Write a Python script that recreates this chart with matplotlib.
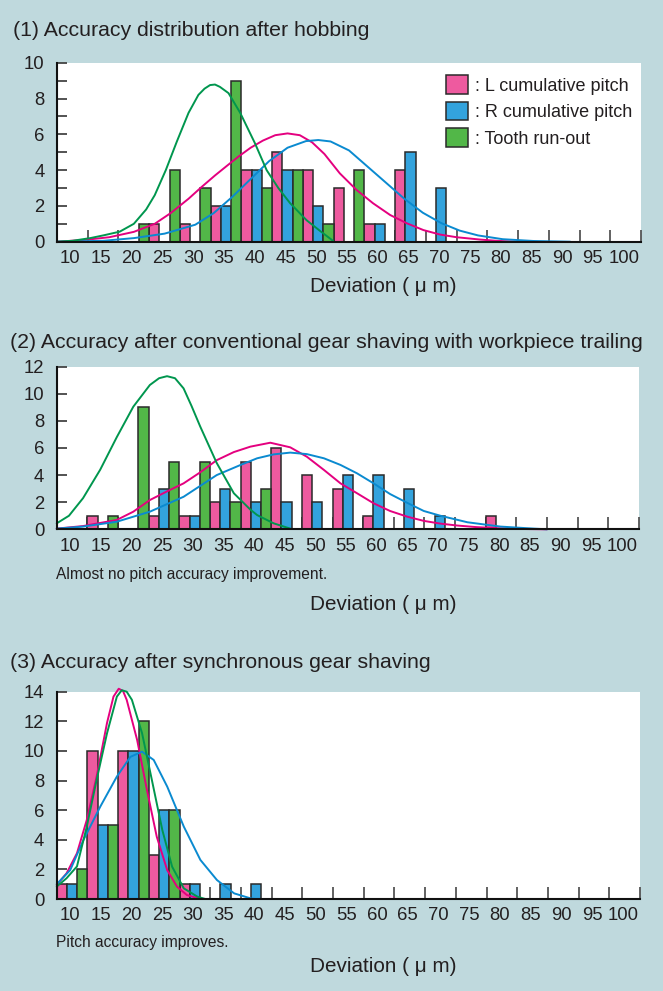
import matplotlib
matplotlib.use("Agg")
import matplotlib.pyplot as plt
import matplotlib.transforms as mtransforms
from matplotlib.patches import Patch

plt.rcParams['font.family'] = ['Liberation Sans', 'DejaVu Sans']

# ---------------- data ----------------
bins = [10, 15, 20, 25, 30, 35, 40, 45, 50, 55, 60, 65, 70, 75, 80, 85, 90, 95, 100]
tick_labels = [str(b) for b in bins]
series_names = [': L cumulative pitch', ': R cumulative pitch', ': Tooth run-out']

# Panel 1: after hobbing
p1_L = [0, 0, 0, 1, 1, 2, 4, 5, 4, 3, 1, 4, 0, 0, 0, 0, 0, 0, 0]
p1_R = [0, 0, 0, 0, 0, 2, 4, 4, 2, 0, 1, 5, 3, 0, 0, 0, 0, 0, 0]
p1_T = [0, 0, 1, 4, 3, 9, 3, 4, 1, 4, 0, 0, 0, 0, 0, 0, 0, 0, 0]

# Panel 2: conventional shaving
p2_L = [0, 1, 0, 1, 1, 2, 5, 6, 4, 3, 1, 0, 0, 0, 1, 0, 0, 0, 0]
p2_R = [0, 0, 0, 3, 1, 3, 2, 2, 2, 4, 4, 3, 1, 0, 0, 0, 0, 0, 0]
p2_T = [0, 1, 9, 5, 5, 2, 3, 0, 0, 0, 0, 0, 0, 0, 0, 0, 0, 0, 0]

# Panel 3: synchronous shaving
p3_L = [1, 10, 10, 3, 1, 0, 0, 0, 0, 0, 0, 0, 0, 0, 0, 0, 0, 0, 0]
p3_R = [1, 5, 10, 6, 1, 1, 1, 0, 0, 0, 0, 0, 0, 0, 0, 0, 0, 0, 0]
p3_T = [2, 5, 12, 6, 0, 0, 0, 0, 0, 0, 0, 0, 0, 0, 0, 0, 0, 0, 0]

# distribution curves
c1_L_x = [7.5, 12, 16, 20, 23.4, 26, 28.9, 31, 33.2, 35, 37, 39, 41, 43, 45, 47, 49, 51, 53.5, 56.2, 58.9, 61.7, 64.4, 67.1, 69.8, 72.5, 76.3, 79, 82]
c1_L_y = [0, 0.1, 0.25, 0.55, 1.0, 1.6, 2.4, 3.05, 3.7, 4.2, 4.75, 5.25, 5.65, 5.95, 6.05, 5.95, 5.55, 4.9, 3.82, 2.9, 2.15, 1.49, 1.03, 0.65, 0.4, 0.25, 0.12, 0.05, 0]
c1_R_x = [7.5, 15, 20, 25, 30, 33, 36, 39, 42, 45, 48, 50, 52, 55, 58, 61, 64, 67, 70, 73, 76, 80, 85, 91]
c1_R_y = [0, 0.05, 0.2, 0.45, 0.95, 1.6, 2.5, 3.5, 4.5, 5.25, 5.62, 5.68, 5.6, 5.1, 4.2, 3.3, 2.4, 1.62, 1.04, 0.62, 0.35, 0.14, 0.04, 0]
c1_T_x = [7.5, 10, 12.9, 15, 17.7, 20, 22, 23.4, 25.2, 27, 28.9, 30.5, 31.5, 32.4, 33.2, 34, 35.4, 37.3, 39.7, 41.6, 43.5, 45.4, 48.1, 50.3, 52.4]
c1_T_y = [0, 0.05, 0.2, 0.35, 0.56, 1.0, 1.8, 2.6, 4.0, 5.6, 7.2, 8.2, 8.55, 8.75, 8.78, 8.65, 8.3, 7.2, 5.5, 4.0, 3.0, 2.16, 1.2, 0.6, 0.05]

c2_L_x = [7.5, 11.8, 17.3, 20, 22.7, 25.5, 28.2, 30.9, 33.6, 36.4, 39.1, 42.35, 45.6, 48.3, 51.1, 53.8, 56.5, 59.2, 61.9, 64.7, 67.4, 70.1, 72.8, 76, 80, 84, 87.5]
c2_L_y = [0.05, 0.24, 0.69, 1.3, 2.16, 2.8, 3.39, 4.2, 5.1, 5.7, 6.1, 6.39, 6.05, 5.36, 4.38, 3.39, 2.66, 1.92, 1.35, 0.93, 0.62, 0.42, 0.28, 0.16, 0.07, 0.02, 0]
c2_R_x = [7.5, 11.8, 17.3, 22.7, 28.2, 33.6, 37.5, 40.2, 42.9, 45.6, 48.3, 51.1, 53.8, 56.5, 59.2, 61.9, 64.7, 67.4, 70.1, 74.5, 79.9, 85.4, 87.5]
c2_R_y = [0.05, 0.2, 0.56, 1.3, 2.4, 4.0, 4.75, 5.24, 5.53, 5.66, 5.55, 5.24, 4.75, 4.13, 3.39, 2.6, 1.95, 1.35, 1.0, 0.52, 0.2, 0.05, 0]
c2_T_x = [7.5, 9.5, 11.8, 14.6, 17.3, 20, 22.7, 24.2, 25.5, 26.8, 28.2, 29.5, 30.9, 33.6, 36.4, 39.1, 40.2, 42.9, 45.6]
c2_T_y = [0.44, 1.0, 2.3, 4.4, 6.8, 9.05, 10.65, 11.15, 11.3, 11.15, 10.4, 9.1, 7.6, 4.9, 2.66, 1.45, 1.05, 0.44, 0.05]

c3_L_x = [7.5, 9.1, 10.8, 12.4, 14.0, 15.7, 16.75, 17.6, 18.3, 18.9, 20.6, 22.2, 23.8, 25.5, 27.1, 28.7, 30.9]
c3_L_y = [0.95, 1.73, 3.09, 5.34, 8.27, 11.9, 13.67, 14.2, 14.05, 13.45, 10.74, 7.36, 4.2, 1.95, 0.83, 0.27, 0]
c3_R_x = [7.5, 9.7, 11.85, 14.6, 17.3, 19.5, 21.4, 23.3, 25.5, 28.2, 30.9, 33.6, 36.4, 39.1, 39.8]
c3_R_y = [1.0, 1.95, 3.98, 6.24, 8.27, 9.6, 9.95, 9.39, 7.59, 4.89, 2.64, 1.28, 0.38, 0.04, 0]
c3_T_x = [7.5, 9.1, 10.8, 12.4, 14.0, 15.7, 17.3, 18.1, 18.9, 19.75, 21.4, 23.0, 24.7, 26.3, 28.2, 30.4, 31.7]
c3_T_y = [0.84, 1.4, 2.2, 4.89, 8.04, 11.2, 13.67, 14.1, 14.0, 13.45, 11.2, 8.04, 4.66, 2.18, 0.72, 0.16, 0]

# ---------------- style ----------------
W, H = 663, 991
BG = '#BFD9DD'
bar_colors = ['#EE5A9F', '#33A3DD', '#52B748']
line_colors = ['#E4007F', '#0A8AD0', '#00964E']
TXT = '#231F20'

fig = plt.figure(figsize=(W / 100, H / 100), dpi=100, facecolor=BG)


def px_axes(left, top, right, bottom):
    return fig.add_axes([left / W, 1 - bottom / H, (right - left) / W, (bottom - top) / H])


def draw_panel(ax, series, curves, ymax, ystep, label_step):
    width = 5 / 3
    for i, vals in enumerate(series):
        xs = [b + (i - 1) * width for b, v in zip(bins, vals) if v > 0]
        hs = [v for v in vals if v > 0]
        ax.bar(xs, hs, width=width, color=bar_colors[i], edgecolor='#2a2a2a',
               linewidth=1.1, zorder=2)
    for i, (cx, cy) in enumerate(curves):
        ax.plot(cx, cy, color=line_colors[i], lw=1.4, zorder=3, clip_on=False,
                solid_capstyle='round', solid_joinstyle='round')
    ax.set_xlim(7.5, 102.5)
    ax.set_ylim(0, ymax)
    ax.set_facecolor('white')
    for s in ['top', 'right']:
        ax.spines[s].set_visible(False)
    for s in ['left', 'bottom']:
        ax.spines[s].set_linewidth(1.5)
        ax.spines[s].set_color('#111111')
        ax.spines[s].set_zorder(4)
    ax.set_axisbelow(True)
    ax.set_xticks(bins)
    ax.set_xticklabels(tick_labels)
    ax.set_xticks([b + 2.5 for b in bins], minor=True)
    ax.tick_params(axis='x', which='major', length=0, pad=6, labelsize=13.3, labelcolor=TXT)
    ax.tick_params(axis='x', which='minor', direction='in', length=9, width=1.3, color='#555555')
    shift = mtransforms.ScaledTranslation(-2 / 100, 0, fig.dpi_scale_trans)
    for lab in ax.get_xticklabels():
        lab.set_transform(lab.get_transform() + shift)
    yt = list(range(0, ymax + 1, ystep))
    ax.set_yticks(yt)
    ax.set_yticklabels([str(v) if v % label_step == 0 else '' for v in yt])
    ax.tick_params(axis='y', which='major', direction='in', length=7, width=1.3,
                   color='#444444', pad=9, labelsize=13.3, labelcolor=TXT)


ax1 = px_axes(57, 62.7, 641, 241.7)
draw_panel(ax1, [p1_L, p1_R, p1_T],
           [(c1_L_x, c1_L_y), (c1_R_x, c1_R_y), (c1_T_x, c1_T_y)], 10, 1, 2)
handles = [Patch(facecolor=c, edgecolor='#2a2a2a', linewidth=1.1) for c in bar_colors]
ax1.legend(handles, series_names, loc='upper right', bbox_to_anchor=(0.985, 0.93),
           frameon=False, fontsize=13, handlelength=1.2, handleheight=1.2,
           handletextpad=0.4, labelspacing=0.4, borderaxespad=0, borderpad=0,
           labelcolor=TXT)

ax2 = px_axes(56.7, 366.7, 639, 529.3)
draw_panel(ax2, [p2_L, p2_R, p2_T],
           [(c2_L_x, c2_L_y), (c2_R_x, c2_R_y), (c2_T_x, c2_T_y)], 12, 2, 2)

ax3 = px_axes(56.7, 691.7, 640, 899)
draw_panel(ax3, [p3_L, p3_R, p3_T],
           [(c3_L_x, c3_L_y), (c3_R_x, c3_R_y), (c3_T_x, c3_T_y)], 14, 2, 2)


def ftext(x, y, s, **kw):
    fig.text(x / W, 1 - y / H, s, color=TXT, **kw)


ftext(13, 30, '(1) Accuracy distribution after hobbing', fontsize=15.3, va='center')
ftext(10, 342, '(2) Accuracy after conventional gear shaving with workpiece trailing', fontsize=15.3, va='center')
ftext(10, 662, '(3) Accuracy after synchronous gear shaving', fontsize=15.3, va='center')
for yy in (287, 605, 966):
    ftext(383, yy, 'Deviation ( μ m)', fontsize=14.9, va='center', ha='center')
ftext(56, 574, 'Almost no pitch accuracy improvement.', fontsize=11.2, va='center')
ftext(56, 942, 'Pitch accuracy improves.', fontsize=11.2, va='center')

fig.savefig('out.png', dpi=100, facecolor=BG)
